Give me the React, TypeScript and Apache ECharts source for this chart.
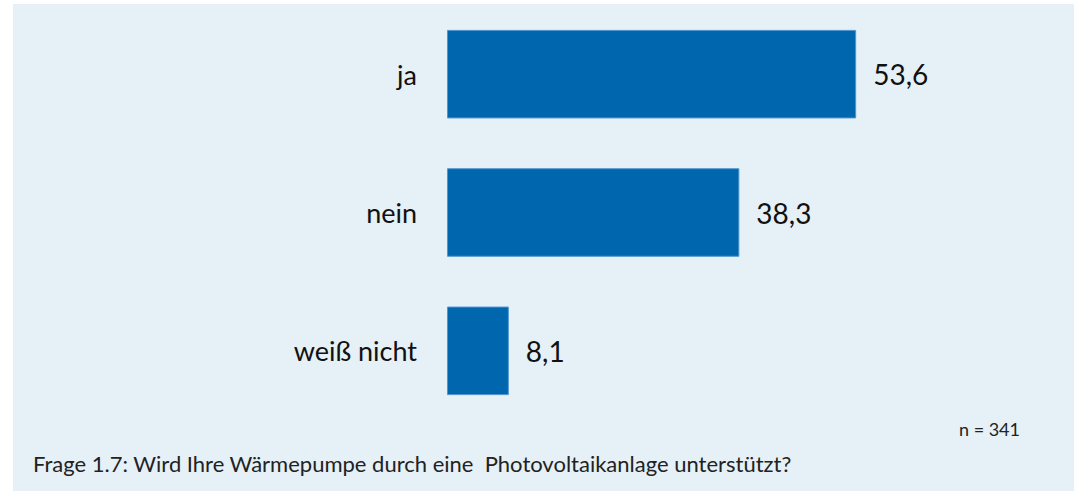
import React, { useEffect, useRef } from "react";
import * as echarts from "echarts";

const categories = ["ja", "nein", "weiß nicht"];
const values = [53.6, 38.3, 8.1];
const sampleNote = "n = 341";
const questionText = "Frage 1.7: Wird Ihre Wärmepumpe durch eine  Photovoltaikanlage unterstützt?";

const FONT = "Lato, 'Open Sans', sans-serif";

export default function App() {
  const ref = useRef<HTMLDivElement>(null);
  useEffect(() => {
    if (!ref.current) return;
    const chart = echarts.init(ref.current, undefined, { renderer: "svg" });
    chart.setOption({
      animation: false,
      graphic: [
        {
          type: "rect",
          z: -10,
          shape: { x: 13, y: 4, width: 1061, height: 487 },
          style: { fill: "#e5f0f7" },
        },
        {
          type: "text",
          right: 56,
          top: 420,
          style: { text: sampleNote, fill: "#222", font: `18px ${FONT}` },
        },
        {
          type: "text",
          left: 33,
          top: 452,
          style: { text: questionText, fill: "#222", font: `22px ${FONT}` },
        },
      ],
      grid: { left: 447, top: 5, height: 415, width: 458, containLabel: false },
      xAxis: {
        type: "value",
        min: 0,
        max: 60,
        show: false,
      },
      yAxis: {
        type: "category",
        data: categories,
        inverse: true,
        axisLine: { show: false },
        axisTick: { show: false },
        axisLabel: { margin: 30, color: "#111", fontSize: 27, fontFamily: FONT },
      },
      series: [
        {
          type: "bar",
          data: values,
          barCategoryGap: "36%",
          itemStyle: { color: "#0066ae", borderColor: "#4f95cf", borderWidth: 1 },
          label: {
            show: true,
            position: "right",
            distance: 17,
            color: "#111",
            fontSize: 28,
            fontFamily: FONT,
            formatter: (p: any) => String(p.value).replace(".", ","),
          },
        },
      ],
    });
    return () => chart.dispose();
  }, []);
  return (
    <div
      ref={ref}
      style={{ position: "fixed", left: 0, top: 0, width: 1076, height: 493, background: "#fff" }}
    />
  );
}
